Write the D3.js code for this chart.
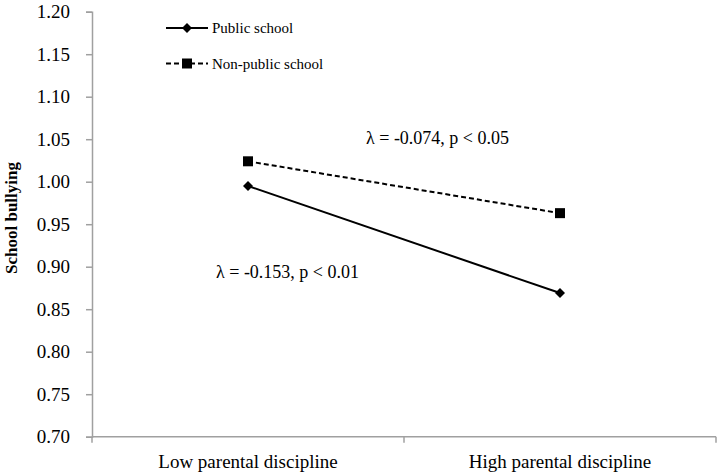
<!DOCTYPE html>
<html>
<head>
    <script src="https://d3js.org/d3.v7.min.js"></script>
    <style>
        body {margin: 0; background: #fff;}
        svg, svg text { font-family: "Liberation Serif", "Times New Roman", serif; }
        .axis path, .axis line { stroke: #a0a0a0; stroke-width: 1.5px; }
        .axis text { font-size: 19px; fill: #000; }
    </style>
</head>
<body>
    <svg width="720" height="472"></svg>
    <script>
        // data
        let categories = ["Low parental discipline", "High parental discipline"];
        let publicSchool = [0.995, 0.869];
        let nonPublicSchool = [1.024, 0.963];
        let yTicks = [0.70, 0.75, 0.80, 0.85, 0.90, 0.95, 1.00, 1.05, 1.10, 1.15, 1.20];
        let seriesNames = ["Public school", "Non-public school"];
        let notes = ["λ = -0.074, p < 0.05", "λ = -0.153, p < 0.01"];

        let svg = d3.select("svg");
        let mLeft = 92, mRight = 716, mTop = 11.7, mBottom = 436.7;

        let x = d3.scaleBand().domain(categories).range([mLeft, mRight]);
        let y = d3.scaleLinear().domain([0.70, 1.20]).range([mBottom, mTop]);

        // y axis
        svg.append("g")
            .attr("class", "axis")
            .attr("transform", "translate(" + mLeft + ",0)")
            .call(d3.axisLeft(y).tickValues(yTicks).tickFormat(d3.format(".2f")).tickSize(6).tickPadding(16))
            .attr("font-family", null);

        // x axis, ticks on band edges
        let xAxis = svg.append("g")
            .attr("class", "axis")
            .attr("transform", "translate(0," + mBottom + ")");
        xAxis.append("line").attr("x1", mLeft).attr("x2", mRight);
        let edges = [mLeft, x(categories[1]), mRight];
        xAxis.selectAll(".edge").data(edges).enter().append("line")
            .attr("x1", d => d).attr("x2", d => d).attr("y1", 0).attr("y2", 6);
        xAxis.selectAll(".cat").data(categories).enter().append("text")
            .attr("x", d => x(d) + x.bandwidth() / 2)
            .attr("y", 31)
            .attr("text-anchor", "middle")
            .text(d => d);

        // y title
        svg.append("text")
            .attr("transform", "translate(17,218) rotate(-90)")
            .attr("text-anchor", "middle")
            .attr("font-size", "17px")
            .attr("font-weight", "bold")
            .text("School bullying");

        let cx = d => x(d) + x.bandwidth() / 2;
        let line = d3.line().x(d => cx(d.c)).y(d => y(d.v));

        let series = [
            {name: seriesNames[0], values: publicSchool, dash: null, size: 50, rot: 45},
            {name: seriesNames[1], values: nonPublicSchool, dash: "5,3", size: 100, rot: 0}
        ];

        series.forEach(s => {
            let pts = s.values.map((v, i) => ({c: categories[i], v: v}));
            svg.append("path")
                .datum(pts)
                .attr("d", line)
                .attr("fill", "none")
                .attr("stroke", "#000")
                .attr("stroke-width", 2)
                .attr("stroke-dasharray", s.dash);
            svg.selectAll(null).data(pts).enter().append("path")
                .attr("d", d3.symbol().type(d3.symbolSquare).size(s.size))
                .attr("transform", d => "translate(" + cx(d.c) + "," + y(d.v) + ") rotate(" + s.rot + ")")
                .attr("fill", "#000");
        });

        // legend
        let legend = svg.append("g");
        series.forEach((s, i) => {
            let ly = 28 + i * 35.5;
            legend.append("line")
                .attr("x1", 166).attr("x2", 208).attr("y1", ly).attr("y2", ly)
                .attr("stroke", "#000").attr("stroke-width", 2)
                .attr("stroke-dasharray", s.dash);
            legend.append("path")
                .attr("d", d3.symbol().type(d3.symbolSquare).size(s.size))
                .attr("transform", "translate(187," + ly + ") rotate(" + s.rot + ")")
                .attr("fill", "#000");
            legend.append("text")
                .attr("x", 212).attr("y", ly + 5)
                .attr("font-size", "15px")
                .text(s.name);
        });

        // annotations
        svg.append("text").attr("x", 366).attr("y", 144).attr("font-size", "18px").text(notes[0]);
        svg.append("text").attr("x", 216).attr("y", 278).attr("font-size", "18px").text(notes[1]);
    </script>
</body>
</html>
